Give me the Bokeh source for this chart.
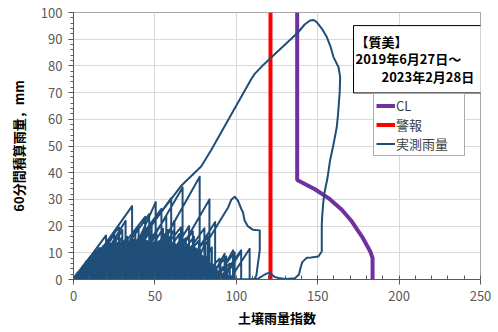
from bokeh.plotting import figure
from bokeh.models import Range1d, Label, SingleIntervalTicker
from bokeh.embed import file_html
from bokeh.resources import INLINE

# ---------------- data ----------------
x_ticks_interval = 50
y_ticks_interval = 10

# CL (critical line)
cl_idx = [137.4, 137.4, 148.3, 156.6, 164.8, 171.0, 177.2, 182.3, 183.7, 183.7]
cl_rain = [100, 37.3, 33.8, 30.5, 26.1, 21.7, 16.1, 10.5, 8.0, 0]

# 警報 (warning) line
alert_idx = [121, 121]
alert_rain = [0, 100]

# 実測雨量: small events (start index, index at peak, 60-min rainfall at peak)
core_start_idx = [0, 0.5, 0.7, 1, 1, 1.4, 1.6, 2, 2.5, 3.1, 3.3, 5.4, 5, 7, 7.2,
                  8.2, 10.3, 10.5, 11.9, 12.6, 14.7, 14.6, 16.5, 16.9, 19.2, 19, 21.1,
                  21.2, 23.1, 23.5, 25.8, 26.4, 28.6, 29.4, 31.7, 31.5, 34, 34.8, 37.2,
                  37.1, 39.2, 40, 42.4, 43, 45.3, 45.1, 47.6, 48.4, 50.8, 51.1, 53, 53.9,
                  56.4, 56.8, 58.7, 59.5, 61.9, 62.5, 65, 65.6, 68.8, 71.2, 73.1, 75.3,
                  77.1, 79.5, 81.4, 83.5, 85.4, 87.2, 89, 90.1, 92.3, 94.2]
core_peak_idx = [3, 4.5, 6, 7, 8.5, 10, 11, 12.5, 13.5, 15, 16, 17.5, 18.5, 20, 21,
                 22.5, 23.5, 25, 26, 27.5, 28.5, 30, 31, 32.5, 33.5, 35, 36, 37.5, 38.5,
                 40, 41, 42.5, 43.5, 45, 46, 47.5, 48.5, 50, 51, 52.5, 53.5, 55, 56, 57.5,
                 58.5, 60, 61, 62.5, 63.5, 65, 66, 67.5, 68.5, 70, 71, 72.5, 73.5, 75, 76,
                 77.5, 78.5, 80, 81, 82.5, 83.5, 85, 86, 87.5, 88.5, 90, 91, 92.5, 94, 95.5]
core_peak_rain = [2.5, 3.6, 4.8, 5.5, 6.8, 7.8, 8.5, 9.5, 10, 10.8, 11.5, 11, 12.3, 11.8,
                  12.5, 13, 12, 13.2, 12.8, 13.5, 12.5, 14, 13.2, 14.2, 13, 14.5, 13.5,
                  14.8, 14, 15, 13.8, 14.6, 13.5, 14.2, 13, 14.5, 13.2, 13.8, 12.5, 14,
                  13, 13.6, 12.4, 13.2, 12, 13.5, 12.2, 12.8, 11.5, 12.6, 11.8, 12.4, 11,
                  12, 11.2, 11.8, 10.5, 11.4, 10, 10.8, 8.8, 8, 7.2, 6.5, 5.8, 5, 4.2, 3.6,
                  2.8, 2.5, 1.8, 2.2, 1.5, 1.2]

# 実測雨量: larger spikes
spike_start_idx = [0, 2, 4, 10, 14, 18, 29, 22, 24, 34, 42, 55, 65, 40, 50, 45, 52, 58,
                   62, 44, 30, 8, 12, 20, 26, 35,
                   15, 20, 25, 28, 33, 36, 38, 42, 46, 48, 54, 56, 18, 6, 10, 14,
                   78, 82, 86, 90, 96, 84, 88, 92, 80, 85, 75, 72]
spike_peak_idx = [20, 28, 36, 32, 44, 46.5, 50.5, 54, 60, 67, 77.5, 83.5, 87, 66, 71, 62,
                  73.3, 80.4, 82.5, 61.7, 57, 25, 30, 40, 48, 55,
                  33, 38, 42, 47, 51, 55, 58, 60, 65, 69, 74, 77, 35, 22, 26, 30,
                  89.7, 93.8, 99, 103, 108.2, 92.8, 98, 103, 90.3, 96, 85, 81]
spike_peak_rain = [16.5, 19.5, 27.5, 22, 23.5, 24.5, 29, 26.5, 30.5, 34.5, 38.5, 30,
                   21.5, 19.5, 20, 22, 18, 19.2, 16, 18.4, 23.5, 17, 18.5, 20, 20, 19,
                   16, 17.5, 16.5, 18, 17, 16, 18.5, 16, 17, 15.5, 16, 14.5, 15, 14, 15.5, 16,
                   7.8, 8.6, 10.2, 10.9, 11.5, 9.6, 10.9, 10.6, 5.9, 6, 12, 14]

# 実測雨量: the event peaking near index 99
ev99_idx = [68, 80, 90, 92.8, 95, 97, 99, 101, 103, 104.1, 105.1, 107, 110.3, 114.4,
            114.4, 113, 112.3, 111]
ev99_rain = [0, 12, 22, 24.8, 27, 30, 31, 29.5, 26.5, 25.2, 22.1, 20, 18.6, 18.4, 10.9,
             4.6, 1.5, 0]

# 実測雨量: the largest event (loop up to ~97 mm)
big_idx = [25, 45, 66, 78.4, 84.6, 109.3, 111.3, 116, 120.6, 130, 138, 142, 145.3, 147.5,
           149.4, 152.5, 155.6, 158, 159.7, 162.8, 163.8, 163.5, 162.5, 161.7, 159.5,
           157.6, 156, 154, 153.3, 152.8, 152.5, 152.5, 152.5, 150.4, 146, 143.2, 140.5,
           139.3, 138.5, 136, 130, 126, 123.6, 120.6, 118.5, 116.5, 113.4, 109]
big_rain = [0, 18, 35, 42.3, 48.5, 75.2, 77, 80, 82.7, 88, 92.6, 95.5, 97, 97.2, 96.4, 94,
            90.8, 87, 83.3, 79.5, 75.8, 70, 62, 57, 50, 44.6, 38, 32, 28, 24, 20.5, 14,
            10.5, 8.6, 8.2, 8.1, 6.5, 4, 1.9, 0.5, 0.2, 0.6, 0.9, 2.5, 2.2, 1.5, 0.3, 0.2]

# ---------------- build the 実測雨量 trajectories ----------------
obs_idx = list(big_idx) + list(ev99_idx)
obs_rain = list(big_rain) + list(ev99_rain)
for s, px, py in zip(spike_start_idx, spike_peak_idx, spike_peak_rain):
    obs_idx += [s, px, px]
    obs_rain += [0, py, 0]
core_idx, core_rain = [], []
for s, px, py in zip(core_start_idx, core_peak_idx, core_peak_rain):
    core_idx += [s, px, px]
    core_rain += [0, py, 0]

# ---------------- figure ----------------
FONT = "Noto Sans CJK JP"
p = figure(width=498, height=332, x_range=Range1d(0, 250), y_range=Range1d(0, 100),
           output_backend="svg", toolbar_location=None,
           min_border_left=73, min_border_right=18, min_border_top=12, min_border_bottom=53)
p.background_fill_color = "white"
p.border_fill_color = "white"
p.outline_line_color = "#a6a6a6"

p.xaxis.ticker = SingleIntervalTicker(interval=x_ticks_interval, num_minor_ticks=5)
p.yaxis.ticker = SingleIntervalTicker(interval=y_ticks_interval, num_minor_ticks=5)
p.xgrid.grid_line_color = "#d9d9d9"
p.ygrid.grid_line_color = "#d9d9d9"

for ax in (p.xaxis, p.yaxis):
    ax.axis_line_color = "#595959"
    ax.major_tick_line_color = "#595959"
    ax.minor_tick_line_color = "#595959"
    ax.major_label_text_font = FONT
    ax.major_label_text_font_size = "13px"
    ax.major_label_text_color = "#595959"
    ax.axis_label_text_font = FONT
    ax.axis_label_text_font_size = "13px"
    ax.axis_label_text_font_style = "bold"
    ax.axis_label_text_color = "#000000"
    ax.major_tick_out = 5
    ax.major_tick_in = 0

p.xaxis.major_label_standoff = 6
p.yaxis.major_label_standoff = 6
p.xaxis.minor_tick_in = 4
p.xaxis.minor_tick_out = 0
p.yaxis.minor_tick_in = 0
p.yaxis.minor_tick_out = 3
p.xaxis.axis_label = "土壌雨量指数"
p.yaxis.axis_label = "60分間積算雨量，mm"
p.xaxis.axis_label_standoff = 4
p.yaxis.axis_label_standoff = 10

p.line(cl_idx, cl_rain, line_color="#7030A0", line_width=4, legend_label="CL")
p.line(alert_idx, alert_rain, line_color="#FF0000", line_width=4, legend_label="警報")
p.line(core_idx, core_rain, line_color="#1F4E79", line_width=3.5, line_join="round")
p.line(obs_idx, obs_rain, line_color="#1F4E79", line_width=2, line_join="round",
       legend_label="実測雨量")

lg = p.legend[0]
lg.location = (300, 123)
lg.label_text_font = FONT
lg.label_text_font_size = "13px"
lg.label_text_color = "#404040"
lg.glyph_width = 19
lg.glyph_height = 17
lg.label_height = 17
lg.label_width = 66
lg.label_standoff = 1
lg.spacing = 0
lg.padding = 2
lg.margin = 0
lg.border_line_color = "#595959"
lg.border_line_width = 1
lg.background_fill_color = "white"
lg.background_fill_alpha = 1

title_box = Label(x=172.0, y=95.1, x_units="data", y_units="data",
                  text="【質美】\n2019年6月27日～\n　　2023年2月28日",
                  text_font=FONT, text_font_size="13px", text_font_style="bold",
                  text_color="#000000", text_align="left", text_baseline="top",
                  text_line_height=0.93,
                  border_line_color="#000000", border_line_width=1,
                  background_fill_color="white", background_fill_alpha=1,
                  padding=(2, 12, 6, 7))
p.add_layout(title_box)

open("out.html", "w").write(file_html(p, INLINE))
